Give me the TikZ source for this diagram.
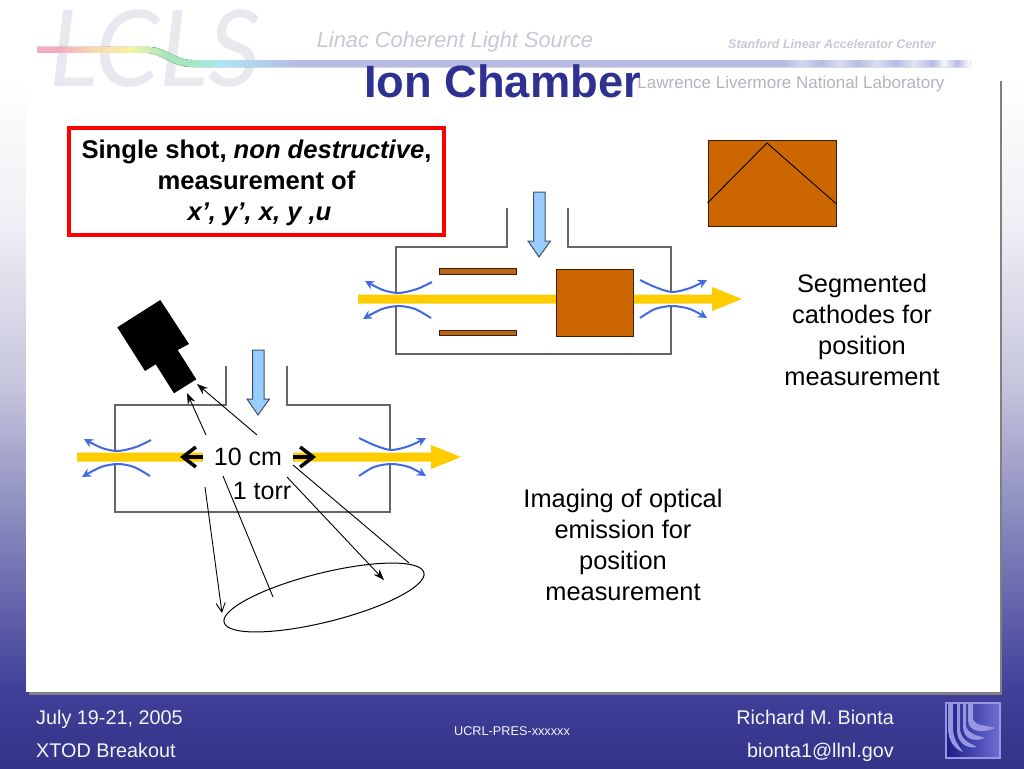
\documentclass[tikz,border=0pt]{standalone}
\usepackage{fontspec}
\setmainfont{Liberation Sans}
\newfontfamily\logofont{Lato}
\usepackage{xcolor}
\usetikzlibrary{arrows.meta,positioning,shapes.geometric}
\definecolor{cbluea}{RGB}{51,51,136}
\definecolor{cblueb}{RGB}{64,64,154}
\definecolor{cbluec}{RGB}{88,88,165}
\definecolor{cblued}{RGB}{142,142,192}
\definecolor{cbluee}{RGB}{197,197,221}
\definecolor{cbluef}{RGB}{239,239,245}
\definecolor{ctitle}{RGB}{46,49,146}
\definecolor{cgas}{RGB}{153,204,255}
\definecolor{cbeam}{RGB}{255,204,0}
\definecolor{ccath}{RGB}{204,102,0}
\definecolor{cplate}{RGB}{184,101,26}
\definecolor{cflow}{RGB}{65,105,225}
\definecolor{chead}{RGB}{200,200,212}
\definecolor{clogo}{RGB}{232,232,238}
\definecolor{crib}{RGB}{184,186,228}
\definecolor{cribp}{RGB}{245,170,190}
\definecolor{cribo}{RGB}{250,215,180}
\definecolor{criby}{RGB}{245,245,160}
\definecolor{cribg}{RGB}{165,230,190}
\definecolor{cribc}{RGB}{170,230,245}
\definecolor{cmarka}{RGB}{28,28,135}
\definecolor{cmarkb}{RGB}{110,110,210}
\definecolor{cmarkc}{RGB}{150,150,225}
\pgfdeclareverticalshading{bgfade}{100bp}{color(0bp)=(cbluea); color(25bp)=(cbluea); color(30.1bp)=(cblueb);
  color(33.9bp)=(cbluec); color(41.9bp)=(cblued); color(49.9bp)=(cbluee); color(60.5bp)=(cbluef);
  color(69.8bp)=(white); color(100bp)=(white)}
\pgfdeclarehorizontalshading{ribbon}{100bp}{color(0bp)=(cribp); color(26.2bp)=(cribp);
  color(28bp)=(cribo); color(30bp)=(criby); color(31.9bp)=(cribg); color(33bp)=(cribg);
  color(35bp)=(cribc); color(39bp)=(crib); color(65bp)=(crib);
  color(66bp)=(crib!60!white); color(67bp)=(crib); color(68bp)=(crib!50!white); color(69bp)=(crib);
  color(70bp)=(crib!50!white); color(71bp)=(crib); color(72bp)=(crib!40!white); color(73bp)=(crib);
  color(73.6bp)=(white!90!crib); color(74.3bp)=(crib); color(75bp)=(white); color(100bp)=(white)}
\begin{document}
\begin{tikzpicture}[
  x=1pt, y=-1pt,
  font=\fontsize{25.4}{31}\selectfont,
  wall/.style={draw=black!60, line width=1.2pt},
  cath/.style={draw=black!70!ccath, line width=1pt, fill=ccath, minimum width=77pt, minimum height=67pt, inner sep=0pt},
  plate/.style={draw=black!70!ccath, line width=1pt, fill=cplate, minimum width=77pt, minimum height=5.5pt, inner sep=0pt},
  gas/.style={draw=black!60!cgas, line width=1pt, fill=cgas},
  beam/.style={fill=cbeam},
  flow/.style={draw=cflow, line width=2pt, -{Stealth[length=9pt,width=9pt]}},
  ray/.style={draw=black, line width=.9pt},
  rayt/.style={ray, -{Stealth[length=11pt,width=8pt]}},
  dimar/.style={draw=black, line width=3.5pt, -{Straight Barb[length=13pt,width=20pt]}},
  note/.style={align=center, inner sep=0pt},
  foot/.style={text=white!90!cblued, font=\fontsize{19.8}{24}\selectfont, inner sep=0pt},
]
\useasboundingbox (0,0) rectangle (1024,768);
% --- slide background ---
\shade[shading=bgfade] (0,0) rectangle (1024,768);
\fill[black!50] (29,81) rectangle (1002,695);
\fill[white] (0,0) rectangle (1024,78);
\fill[white] (26,78) rectangle (1000,692);

% --- header ---
\node[text=clogo, font=\logofont\itshape\fontsize{106}{106}\selectfont, inner sep=0pt, xscale=.97, transform shape] (lcls) at (155,49) {LCLS};
\fill[shading=ribbon] (37,47) -- (150,47) .. controls (165,47) and (175,60) .. (192,60) -- (970,60)
  -- (970,67) -- (192,67) .. controls (172,67) and (160,53) .. (148,53) -- (37,53) -- cycle;
\node[text=chead, font=\itshape\fontsize{21.8}{25}\selectfont, inner sep=0pt] (lcsrc) at (455,42) {Linac Coherent Light Source};
\node[text=chead, font=\bfseries\itshape\fontsize{12.5}{15}\selectfont, inner sep=0pt] (slac) at (832,44) {Stanford Linear Accelerator Center};
\node[text=chead!90!black, font=\fontsize{17}{20}\selectfont, inner sep=0pt] (llnl) at (791,84) {Lawrence Livermore National Laboratory};
\node[text=ctitle, font=\bfseries\fontsize{45.3}{50}\selectfont, inner sep=0pt] (title) at (502.5,81) {Ion Chamber};

% --- summary box ---
\node[draw=red, line width=4pt, minimum width=375pt, minimum height=107pt, align=center, inner sep=0pt,
      font=\bfseries\fontsize{25.6}{30.7}\selectfont] (summary) at (256.5,181.5)
  {\rule{0pt}{21pt}Single shot, \textit{non destructive},\\measurement of\\\hspace*{6pt}\textit{x', y', x, y ,u}};

% --- the two chambers ---
\foreach \cx/\cy in {0/0,-281/158} {
  \begin{scope}[shift={(\cx,\cy)}]
    \fill[beam] (358,294.5) -- (712,294.5) -- (712,287) -- (742,299) -- (712,311) -- (712,303.5) -- (358,303.5) -- cycle;
    \draw[wall] (396,293) -- (396,247) -- (507,247) -- (507,208);
    \draw[wall] (568,208) -- (568,247) -- (671,247) -- (671,292);
    \draw[wall] (671,306) -- (671,354) -- (396,354) -- (396,306);
    \draw[gas] (533.5,192) -- (545,192) -- (545,241) -- (550.5,241) -- (539,257) -- (528,241) -- (533.5,241) -- cycle;
    \draw[flow] plot[smooth] coordinates {(432,282) (417,289) (399,293) (383,290) (365,281)};
    \draw[flow] plot[smooth] coordinates {(431,318) (415,309) (399,306) (382,309) (363,319)};
    \draw[flow] plot[smooth] coordinates {(640,280) (655,287) (672,292) (690,288) (707,280)};
    \draw[flow] plot[smooth] coordinates {(640,318) (655,309) (672,306) (690,309) (707,318)};
  \end{scope}
}

% --- cathodes ---
\node[plate] (platetop) at (477.5,271.5) {};
\node[plate] (platebot) at (477.5,333) {};
\node[cath] (block) at (594.5,302.5) {};
\node[cath, minimum width=128pt, minimum height=86pt] (segment) at (772,183) {};
\draw[ray] (segment.west |- 0,203) -- (767,143) -- (segment.east |- 0,204);
\node[note] (segnote) at (862,329.5) {Segmented\\cathodes for\\position\\measurement};

% --- lower chamber labels ---
\node[fill=white, minimum width=90pt, minimum height=21pt, inner sep=0pt, font=\fontsize{25}{29}\selectfont] (dist) at (248,457) {10 cm};
\node[inner sep=0pt, font=\fontsize{25}{29}\selectfont] (press) at (262,491) {1 torr};
\coordinate (distl) at (180,457);
\coordinate (distr) at (316,457);
\draw[dimar] (dist.west) -- (distl);
\draw[dimar] (dist.east) -- (distr);

% --- camera and rays ---
\fill[black] (160.3,300) -- (189,344) -- (177.7,350) -- (196.3,379.3) -- (174,393.3) -- (155.7,364.3) -- (145,371) -- (117.3,327.3) -- cycle;
\node[draw=black, line width=1pt, ellipse, minimum width=206pt, minimum height=49pt, inner sep=0pt, rotate=14] (image) at (324,597.5) {};
\coordinate (upa) at (206,435);
\coordinate (upb) at (187,393);
\coordinate (upc) at (257,435);
\coordinate (upd) at (197,384);
\coordinate (loa) at (205,487);
\coordinate (lob) at (222,613);
\coordinate (loc) at (223,476);
\coordinate (lod) at (273,597);
\coordinate (loe) at (287,477);
\coordinate (lof) at (384,580);
\coordinate (log) at (293,465);
\coordinate (loh) at (409,563);
\draw[rayt] (upa) -- (upb);
\draw[rayt] (upc) -- (upd);
\draw[ray, -{Straight Barb[length=9pt,width=9pt]}] (loa) -- (lob);
\draw[ray] (loc) -- (lod);
\draw[rayt] (loe) -- (lof);
\draw[ray] (log) -- (loh);
\node[note] (imgnote) at (623,545) {Imaging of optical\\emission for\\position\\measurement};

% --- footer ---
\node[foot, anchor=base west] (date) at (36,724) {July 19-21, 2005};
\node[foot, anchor=base west] (sess) at (36,757) {XTOD Breakout};
\node[foot, font=\fontsize{12.7}{14}\selectfont, anchor=base] (ucrl) at (512,735) {UCRL-PRES-xxxxxx};
\node[foot, anchor=base east] (name) at (894,724) {Richard M. Bionta};
\node[foot, anchor=base east] (mail) at (894,757) {bionta1@llnl.gov};
\shade[draw=cmarkc, line width=1.5pt, left color=cmarka, right color=cmarkb] (946,703) rectangle (1000,758);
\fill[cmarkc] (968,704) -- (973,704) -- (973,720) .. controls (976,726) and (986,725) .. (995,728) .. controls (984,733) and (968,733) .. (968,720) -- cycle;
\fill[cmarkc] (963,704) -- (966,704) -- (966,726) .. controls (969,735) and (977,735) .. (985,738) .. controls (975,742) and (963,740) .. (963,726) -- cycle;
\fill[cmarkc] (957,704) -- (960,704) -- (960,730) .. controls (962,741) and (970,743) .. (977,747) .. controls (968,749) and (957,744) .. (957,730) -- cycle;
\fill[cmarkc] (948,704) -- (953,704) -- (953,730) .. controls (954,740) and (958,745) .. (963,752) .. controls (954,749) and (948,740) .. (948,728) -- cycle;
\end{tikzpicture}
\end{document}
